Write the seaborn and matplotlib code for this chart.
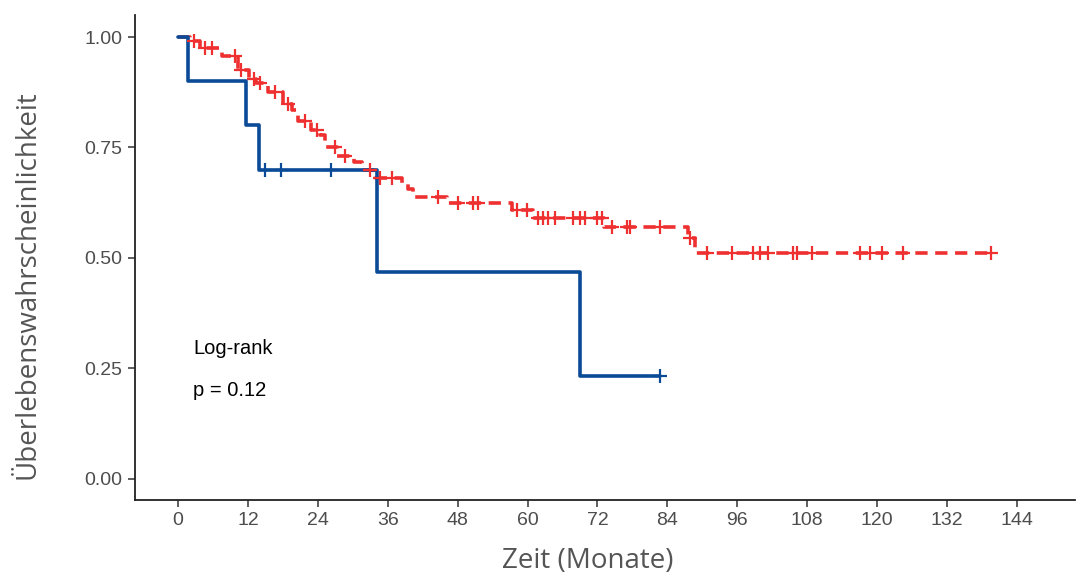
import numpy as np
import pandas as pd
import matplotlib
matplotlib.use("Agg")
import matplotlib.pyplot as plt
import seaborn as sns

# Kaplan-Meier step estimates (months, survival after each event)
red_event_times = [0.0, 2.1, 3.8, 7.6, 10.3, 12.2, 13.4, 15.4, 18.0, 19.6, 20.6, 22.8,
                   24.4, 25.2, 27.3, 30.2, 31.6, 33.5, 38.4, 39.5, 40.3, 46.2, 57.3,
                   61.0, 73.1, 87.5, 88.7]
red_survival = [1.000, 0.991, 0.975, 0.957, 0.925, 0.905, 0.895, 0.875, 0.848, 0.835,
                0.810, 0.790, 0.778, 0.752, 0.730, 0.717, 0.700, 0.682, 0.670, 0.655,
                0.638, 0.624, 0.609, 0.591, 0.569, 0.545, 0.512]
red_censored = [2.7, 4.6, 5.8, 9.8, 10.8, 13.0, 14.1, 16.6, 18.9, 21.8, 23.9, 26.9,
                28.7, 33.0, 34.7, 36.7, 44.6, 48.1, 50.6, 51.5, 58.2, 59.9, 61.8,
                62.6, 63.5, 64.7, 67.8, 69.0, 69.9, 71.9, 72.8, 74.5, 77.1, 77.6,
                82.7, 87.9, 90.8, 95.1, 98.7, 99.9, 101.3, 105.6, 106.2, 108.8,
                117.1, 118.8, 120.8, 124.4, 139.5]

blue_event_times = [0.0, 1.7, 11.7, 13.9, 34.2, 69.0]
blue_survival = [1.000, 0.900, 0.800, 0.700, 0.467, 0.233]
blue_censored = [15.0, 17.7, 26.2, 82.7]

x_ticks = [0, 12, 24, 36, 48, 60, 72, 84, 96, 108, 120, 132, 144]
y_ticks = [0.00, 0.25, 0.50, 0.75, 1.00]

RED = "#EE3030"
BLUE = "#0B4A97"


def step_frame(times, surv, censored):
    end = max(censored[-1], times[-1])
    t = list(times) + [end]
    s = list(surv) + [surv[-1]]
    curve = pd.DataFrame({"time": t, "surv": s})
    idx = np.searchsorted(times, censored, side="right") - 1
    marks = pd.DataFrame({"time": censored, "surv": np.asarray(surv)[idx]})
    return curve, marks


sns.set_theme(style="ticks")
plt.rcParams["font.family"] = ["Liberation Sans", "DejaVu Sans"]

fig = plt.figure(figsize=(10.79, 5.76), dpi=100)
ax = fig.add_axes([0.1251, 0.132, 0.8712, 0.842])

red_curve, red_marks = step_frame(red_event_times, red_survival, red_censored)
blue_curve, blue_marks = step_frame(blue_event_times, blue_survival, blue_censored)

sns.lineplot(data=red_curve, x="time", y="surv", ax=ax, color=RED, lw=2.6,
             drawstyle="steps-post", linestyle=(0, (3.4, 2.1)), estimator=None,
             sort=False)
sns.scatterplot(data=red_marks, x="time", y="surv", ax=ax, marker="+", s=90,
                color=RED, linewidth=1.6, zorder=4)

sns.lineplot(data=blue_curve, x="time", y="surv", ax=ax, color=BLUE, lw=2.6,
             drawstyle="steps-post", estimator=None, sort=False)
sns.scatterplot(data=blue_marks, x="time", y="surv", ax=ax, marker="+", s=90,
                color=BLUE, linewidth=1.6, zorder=4)

ax.text(2.6, 0.296, "Log-rank", fontsize=14.5, va="center", ha="left", color="black")
ax.text(2.6, 0.199, "p = 0.12", fontsize=14.5, va="center", ha="left", color="black")

ax.set_xlim(-7.4, 154)
ax.set_ylim(-0.048, 1.05)
ax.set_xticks(x_ticks)
ax.set_yticks(y_ticks)
ax.set_yticklabels([f"{v:.2f}" for v in y_ticks])
ax.tick_params(axis="both", labelsize=14, labelcolor="#4D4D4D", color="#333333",
               length=5, width=1.1, pad=4)
ax.set_xlabel("Zeit (Monate)", fontsize=20, color="#555555", family="Open Sans")
ax.set_ylabel("Überlebenswahrscheinlichkeit", fontsize=20, color="#555555",
              family="Open Sans")
ax.xaxis.set_label_coords(0.482, -0.098)
ax.yaxis.set_label_coords(-0.099, 0.443)

for side in ("top", "right"):
    ax.spines[side].set_visible(False)
for side in ("left", "bottom"):
    ax.spines[side].set_linewidth(1.3)
    ax.spines[side].set_color("#222222")

fig.savefig("out.png", dpi=100)
